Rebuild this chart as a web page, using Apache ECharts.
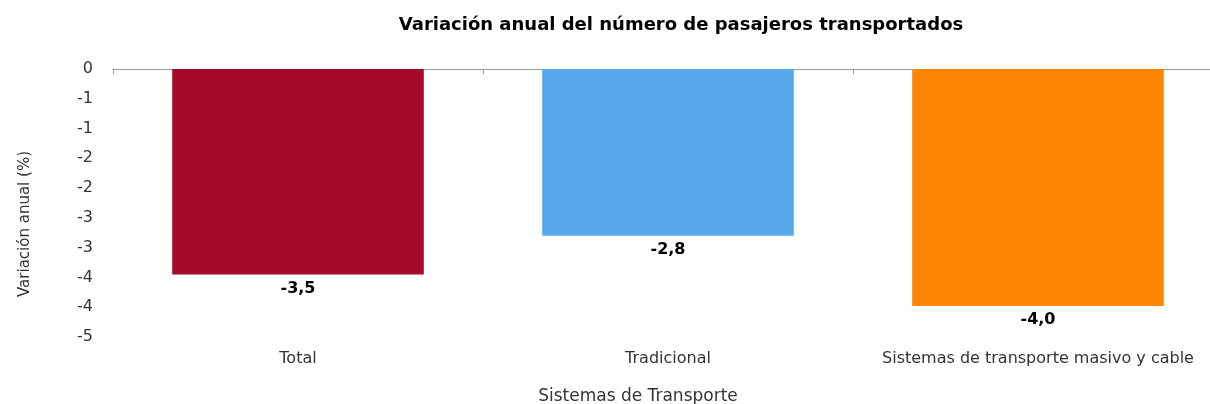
<!DOCTYPE html>
<html>
<head>
<meta charset="utf-8">
<script src="https://cdn.jsdelivr.net/npm/echarts@6/dist/echarts.min.js"></script>
<style>
  html, body { margin: 0; padding: 0; background: #fff; }
  #main { width: 1210px; height: 404px; }
</style>
</head>
<body>
<div id="main"></div>
<script>
// datos del grafico
var categorias = ['Total', 'Tradicional', 'Sistemas de transporte masivo y cable'];
var variacion = [-3.45, -2.8, -3.98];
var colores = ['#A50A2D', '#57A9EC', '#FF8505'];
// etiquetas del eje Y, de arriba (0) hacia abajo
var yTickLabels = ['0', '-1', '-1', '-2', '-2', '-3', '-3', '-4', '-4', '-5'];

var chart = echarts.init(document.getElementById('main'));
var fuente = 'DejaVu Sans';

var option = {
  animation: false,
  title: {
    text: 'Variación anual del número de pasajeros transportados',
    left: 676,
    textAlign: 'center',
    top: 11,
    textStyle: { fontFamily: fuente, fontSize: 18, fontWeight: 'bold', color: '#000' }
  },
  grid: { left: 113, right: -13, top: 69, bottom: 67, containLabel: false, outerBoundsMode: 'none' },
  xAxis: [
    {
      type: 'category',
      position: 'top',
      data: categorias,
      axisLine: { onZero: false, lineStyle: { color: '#9a9a9a', width: 1 } },
      axisTick: { show: true, inside: true, length: 5, lineStyle: { color: '#9a9a9a' } },
      axisLabel: { show: false }
    },
    {
      type: 'category',
      position: 'bottom',
      data: categorias,
      axisLine: { show: false },
      axisTick: { show: false },
      axisLabel: { interval: 0, margin: 14, fontFamily: fuente, fontSize: 16, color: '#333' },
      name: 'Sistemas de Transporte',
      nameLocation: 'middle',
      nameGap: 51,
      nameTextStyle: { fontFamily: fuente, fontSize: 17, color: '#333', padding: [0, 60, 0, 0] }
    }
  ],
  yAxis: {
    type: 'value',
    min: -4.5,
    max: 0,
    interval: 0.5,
    splitLine: { show: false },
    axisLine: { show: false },
    axisTick: { show: false },
    axisLabel: {
      margin: 20,
      fontFamily: fuente,
      fontSize: 16,
      color: '#333',
      formatter: function (v, i) { return yTickLabels[yTickLabels.length - 1 - i]; }
    },
    name: 'Variación anual (%)',
    nameLocation: 'middle',
    nameGap: 80,
    nameTextStyle: { fontFamily: fuente, fontSize: 15, color: '#333', padding: [0, 0, 0, -42] }
  },
  series: [
    {
      type: 'bar',
      xAxisIndex: 1,
      barCategoryGap: '32%',
      data: variacion.map(function (v, i) {
        return { value: v, itemStyle: { color: colores[i] } };
      }),
      label: {
        show: true,
        position: 'bottom',
        distance: 6,
        fontFamily: fuente,
        fontSize: 16,
        fontWeight: 'bold',
        color: '#000',
        formatter: function (p) { return p.value.toFixed(1).replace('.', ','); }
      }
    }
  ]
};

chart.setOption(option);
</script>
</body>
</html>
